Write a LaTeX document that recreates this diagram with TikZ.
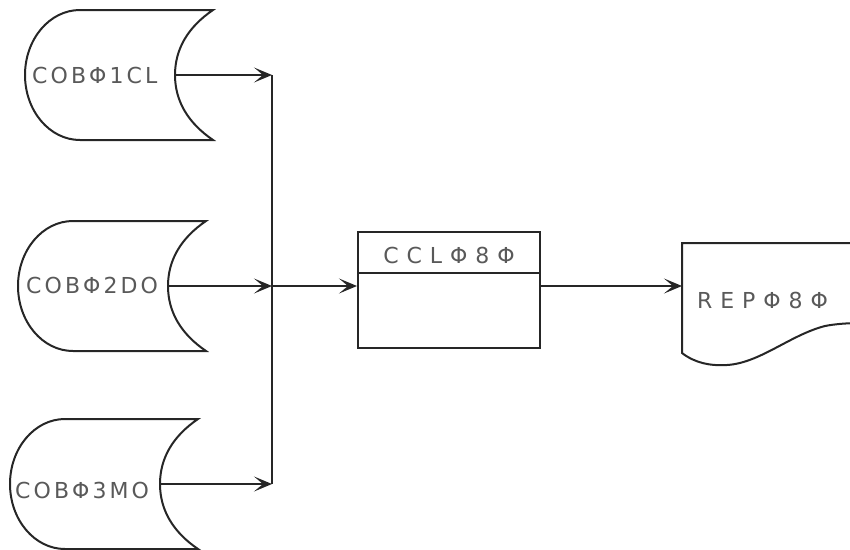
\documentclass[tikz,border=0pt]{standalone}
\usepackage{fontspec}
\newfontfamily\hand[LetterSpace=14]{DejaVu Sans}
\newfontfamily\handwide[LetterSpace=36]{DejaVu Sans}
\usetikzlibrary{arrows.meta}
\begin{document}
\begin{tikzpicture}[x=1pt,y=-1pt,
  line/.style={line width=2pt, draw=black!85},
  arrowtip/.tip={Stealth[length=18pt,width=15pt,inset=9pt]},
  arr/.style={line, -arrowtip},
  lbl/.style={font=\hand\fontsize{22}{25}\selectfont, text=black!65, inner sep=0pt},
  wlbl/.style={lbl, font=\handwide\fontsize{22}{25}\selectfont},
  storage/.pic={
    \draw[line] (55,-65) -- (188,-65)
      .. controls (163,-48) and (150,-26) .. (150,0)
      .. controls (150,26) and (163,48) .. (188,65)
      -- (55,65) arc[start angle=90,end angle=270,x radius=55,y radius=65] -- cycle;
    \coordinate (-out) at (150,0);
  }
]
\useasboundingbox (0,0) rectangle (850,549);
% storage shapes
\pic (s1) at (25,75) {storage};
\pic (s2) at (18,286) {storage};
\pic (s3) at (10,484) {storage};
\node[lbl,anchor=west] (t1) at (32,75) {COBΦ1CL};
\node[lbl,anchor=west] (t2) at (26,285) {COBΦ2DO};
\node[lbl,anchor=west] (t3) at (15,490) {COBΦ3MO};
% junctions
\coordinate (j1) at (272,75);
\coordinate (j2) at (272,286);
\coordinate (j3) at (272,484);
\draw[arr] (s1-out) -- (j1);
\draw[arr] (s2-out) -- (j2);
\draw[arr] (s3-out) -- (j3);
\draw[line] (j1) -- (j3);
% program box
\node[line, draw, minimum width=182pt, minimum height=116pt, inner sep=0pt] (ccl) at (449,290) {};
\draw[line] (ccl.west |- 0,273) -- (ccl.east |- 0,273);
\node[wlbl] (tccl) at (449,255) {CCLΦ8Φ};
\draw[arr] (j2) -- (j2 -| ccl.west);
% report document
\draw[line] (862,243) -- (682,243) -- (682,353)
  .. controls (695,363) and (710,366) .. (727,365)
  .. controls (760,363) and (790,335) .. (825,326)
  .. controls (835,324) and (848,323) .. (862,323);
\coordinate (docin) at (682,286);
\node[wlbl,anchor=west] (trep) at (697,300) {REPΦ8Φ};
\draw[arr] (ccl.east |- j2) -- (docin);
\end{tikzpicture}
\end{document}
